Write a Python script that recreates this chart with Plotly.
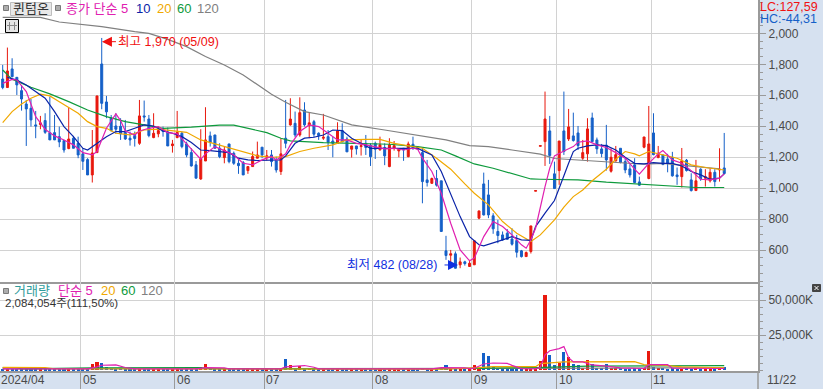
import plotly.graph_objects as go

# ---------- data ----------
highs = [1796,1908,1839,1716,1667,1570,1576,1499,1467,1484,
1591,1473,1398,1312,1521,1338,1333,1258,1194,1376,
1596,1970,1596,1473,1484,1452,1441,1366,1366,1570,
1566,1473,1484,1398,1398,1392,1312,1499,1366,1301,
1258,1176,1381,1523,1366,1344,1290,1269,1286,1237,
1194,1176,1140,1237,1301,1265,1247,1247,1204,1323,
1570,1581,1495,1587,1555,1490,1441,1361,1480,1376,
1333,1426,1419,1333,1273,1273,1312,1344,1290,1301,
1333,1290,1323,1305,1258,1258,1301,1333,1269,1258,
1183,1069,1118,1048,693,602,592,553,532,538,
661,854,1101,1054,839,796,721,736,742,699,
602,592,757,985,1275,1624,1467,1172,1305,1624,
1512,1488,1402,1312,1452,1488,1327,1286,1409,1258,
1273,1258,1194,1155,1194,1075,1331,1531,1484,1273,
1215,1222,1235,1134,1260,1189,1097,1183,1129,1123,
1129,1123,1258,1357]
lows = [1639,1650,1716,1602,1501,1273,1398,1323,1381,1351,
1312,1312,1265,1230,1252,1258,1194,1118,1086,1037,
1230,1510,1452,1366,1351,1312,1312,1275,1269,1280,
1430,1329,1323,1329,1333,1273,1230,1323,1258,1200,
1140,1065,1054,1176,1269,1258,1194,1161,1161,1151,
1093,1086,1093,1140,1194,1194,1179,1140,1101,1086,
1258,1404,1329,1333,1398,1323,1329,1312,1312,1247,
1200,1290,1297,1235,1198,1217,1211,1215,1144,1189,
1243,1149,1136,1243,1200,1177,1200,1252,1247,903,
1011,1028,1011,721,538,510,482,484,501,495,
506,800,824,807,706,645,661,667,630,553,
553,559,579,981,1271,1144,1157,996,1022,1215,
1305,1301,1247,1183,1172,1297,1222,1200,1114,1101,
1172,1161,1097,1069,1033,1015,1258,1058,1213,1194,
1149,1103,1075,1022,1005,1108,979,985,1048,1011,
1037,1011,1043,1091]
opens = [1705,1650,1770,1716,1630,1544,1516,1409,1411,1437,
1359,1359,1333,1308,1256,1323,1290,1222,1185,1086,
1230,1802,1557,1454,1402,1400,1361,1323,1340,1290,
1467,1447,1327,1351,1376,1361,1275,1327,1355,1286,
1230,1151,1060,1176,1338,1344,1258,1198,1286,1226,
1161,1166,1114,1140,1194,1265,1200,1215,1177,1108,
1323,1409,1419,1344,1505,1404,1430,1355,1323,1333,
1305,1290,1372,1318,1252,1273,1269,1290,1278,1290,
1248,1263,1140,1258,1241,1258,1204,1284,1263,1230,
1054,1032,1063,1048,596,568,577,506,525,495,
506,807,1028,957,822,721,699,710,673,663,
596,559,592,981,1271,1301,1370,1093,1114,1370,
1318,1338,1357,1194,1222,1454,1312,1254,1278,1110,
1177,1258,1172,1125,1151,1041,1265,1063,1357,1198,
1215,1189,1200,1086,1075,1181,1054,985,1123,1065,
1048,1103,1118,1131]
closes = [1650,1757,1720,1667,1576,1512,1441,1402,1422,1361,
1312,1312,1299,1247,1318,1258,1215,1174,1086,1228,
1596,1548,1493,1372,1381,1351,1318,1312,1321,1467,
1460,1340,1355,1372,1366,1273,1286,1361,1269,1215,
1144,1065,1189,1312,1295,1258,1204,1247,1172,1161,
1146,1086,1140,1205,1215,1215,1209,1172,1118,1222,
1290,1447,1344,1488,1409,1422,1349,1340,1329,1297,
1290,1370,1301,1235,1273,1254,1275,1263,1204,1252,
1280,1209,1280,1275,1252,1247,1286,1254,1252,1043,
1037,1063,1020,721,566,577,484,525,514,516,
661,854,828,828,738,695,667,671,639,587,
559,585,757,985,1275,1447,1211,998,1305,1237,
1396,1308,1275,1230,1383,1301,1254,1224,1183,1200,
1217,1166,1118,1086,1037,1020,1331,1286,1217,1226,
1153,1161,1080,1075,1177,1114,985,1048,1060,1075,
1103,1043,1123,1095]
volumes = [1100,900,800,900,800,900,800,800,700,900,
800,600,700,800,700,800,900,900,1000,4300,
5700,5000,2500,1500,1200,1500,1000,900,800,1100,
800,800,700,800,700,900,700,1000,800,800,
900,800,2400,4300,1500,1000,800,700,900,700,
700,800,900,800,600,800,700,600,500,1000,
7850,3500,1100,3100,1200,1500,900,700,700,800,
700,900,700,800,600,600,500,800,700,600,
700,600,800,500,500,600,800,800,600,1500,
900,800,1000,1900,4000,800,1000,800,600,900,
3500,1000,12000,10000,2600,1500,1100,900,900,900,
900,800,1000,900,6900,53500,10700,3500,5000,12800,
9300,4300,3500,1800,7100,4300,1800,1500,4300,1500,
1800,1500,1000,1200,1300,1000,1500,13500,2600,1500,
1500,1200,1300,1000,1200,1500,1100,1500,900,900,
1000,1100,2200,2084]

ma5_i = [0,2,3,5,7,9,11,13,15,17,19,20,22,24,25,26,28,29,31,33,35,37,39,41,42,43,45,47,49,51,53,55,57,58,60,61,63,65,67,69,71,73,75,77,79,81,83,85,87,88,89,91,93,95,97,99,100,102,104,106,108,110,111,112,113,114,115,116,117,119,121,122,124,126,128,130,132,134,135,137,139,140,142,144,146,148,150,152,153]
ma5_v = [1677,1703,1699,1624,1462,1381,1338,1312,1280,1230,1215,1237,1387,1480,1437,1370,1344,1370,1387,1398,1359,1351,1286,1222,1187,1222,1269,1243,1215,1161,1151,1183,1205,1183,1222,1280,1366,1409,1398,1355,1312,1312,1290,1280,1269,1254,1258,1247,1258,1252,1194,1108,968,774,602,532,549,688,785,753,699,635,613,667,742,882,1011,1129,1209,1241,1269,1297,1306,1280,1263,1230,1194,1123,1091,1161,1222,1243,1183,1161,1114,1058,1054,1065,1093]
ma10_i = [1,3,5,7,9,11,13,15,17,18,20,22,24,26,28,30,32,34,36,38,40,42,44,46,48,50,52,54,56,57,59,60,62,64,66,68,70,72,74,76,78,80,82,84,86,88,89,91,93,95,97,99,101,102,104,106,108,110,112,113,115,117,118,119,120,121,122,124,126,128,130,132,134,136,138,140,142,144,146,148,150,152,153]
ma10_v = [1716,1699,1667,1624,1581,1495,1398,1333,1258,1247,1290,1333,1366,1366,1387,1409,1402,1370,1355,1333,1295,1247,1243,1237,1230,1194,1183,1179,1179,1179,1183,1209,1290,1323,1329,1344,1376,1372,1323,1290,1258,1258,1258,1258,1258,1258,1243,1215,1108,957,817,688,635,628,650,667,688,667,663,753,839,921,1000,1086,1161,1237,1258,1273,1280,1275,1247,1200,1161,1157,1166,1161,1161,1144,1108,1086,1058,1065,1093]
ma20_i = [0,2,4,6,8,10,12,14,16,18,20,22,24,27,30,33,36,39,42,45,48,51,54,57,60,63,66,70,73,77,80,83,86,89,92,95,98,100,103,106,109,112,114,117,119,121,123,125,128,130,132,134,135,137,140,143,146,149,153]
ma20_v = [1424,1495,1544,1581,1607,1596,1559,1523,1484,1430,1398,1387,1355,1344,1376,1381,1370,1361,1312,1286,1258,1230,1209,1200,1204,1237,1258,1280,1312,1316,1316,1290,1273,1258,1194,1123,1028,968,893,785,710,656,699,796,878,946,989,1048,1123,1187,1237,1222,1209,1237,1215,1194,1151,1134,1118]
ma60_i = [0,2,6,10,14,18,22,26,30,34,40,46,49,52,56,59,61,68,75,82,88,93,96,100,104,108,112,114,122,128,134,140,147,153]
ma60_v = [1763,1703,1652,1609,1559,1505,1462,1430,1409,1387,1394,1407,1407,1387,1359,1323,1306,1295,1290,1284,1269,1247,1209,1157,1129,1097,1060,1058,1054,1039,1028,1020,1005,1005]
ma120_i = [0,8,12,17,21,28,31,35,39,43,47,51,55,57,60,64,68,74,81,88,94,99,103,108,114,117,122,128,134,136,140,146,152]
ma120_v = [2103,2103,2073,2056,2043,2011,2000,1961,1914,1850,1796,1731,1652,1607,1555,1495,1473,1409,1376,1344,1312,1275,1269,1247,1220,1192,1183,1168,1161,1155,1161,1144,1125]

vma5_i = [0,18,20,21,24,26,28,41,43,47,48,59,60,62,64,66,67,91,93,98,99,100,102,104,107,108,110,113,114,115,116,118,119,120,121,123,125,128,131,136,137,141,142,153]
vma5_v = [1000,1000,2500,3600,3800,2000,1000,1000,1900,1800,1000,1000,2500,2700,3400,2200,1000,1000,1900,1800,1200,1500,4500,5200,4900,3500,1200,1000,2200,11000,14000,15500,16900,9000,6000,6000,3800,3000,1800,1300,4000,4000,1500,1300]
vma20_i = [0,9,11,42,90,93,100,104,113,114,119,134,136,140,144,153]
vma20_v = [2100,2000,1100,1000,900,800,1800,2600,2600,4800,6000,6200,4000,3600,2400,1700]
vma60_i = [0,3,4,19,42,44,90,113,124,153]
vma60_v = [1900,1900,1000,1700,1900,1100,1000,1900,3000,3300]
vma120_i = [0,100,113,130,153]
vma120_v = [1000,1000,1100,1500,1900]

price_ticks = [600,800,1000,1200,1400,1600,1800,2000]
price_minor = list(range(400,2201,50))
vol_ticks = [25000,50000]
vol_tick_text = ["25,000K","50,000K"]
vol_minor = list(range(0,63001,5000))
month_pos = [16.5,36.5,55.5,78.5,99.5,117.5,137.5]
month_text = ["05","06","07","08","09","10","11"]

# ---------- styles ----------
RED="#E8190E"; BLUE="#1560C8"; MAGENTA="#E020B0"; NAVY="#0A23A8"; ORANGE="#F0A800"; GREEN="#0E9A3C"; GRAY="#808080"
BAND="#D6E1F0"; GRID="#D2D2D2"; EDGE="#9A9A9A"; LABEL="#4A4A4A"
FONT="Liberation Sans, Noto Sans CJK KR, sans-serif"
W=758; H=371
X=lambda p:p/W
Y=lambda p:1-p/H
XR=[-0.57,160.16]
LW=1.2

idx=list(range(len(closes)))
fig=go.Figure()
fig.add_trace(go.Candlestick(x=idx,open=opens,high=highs,low=lows,close=closes,
    increasing=dict(line=dict(color=RED,width=1),fillcolor=RED),
    decreasing=dict(line=dict(color=BLUE,width=1),fillcolor=BLUE),
    whiskerwidth=0,hoverinfo="skip",showlegend=False,xaxis="x",yaxis="y"))
for xs,ys,c in [(ma120_i,ma120_v,GRAY),(ma60_i,ma60_v,GREEN),(ma20_i,ma20_v,ORANGE),(ma10_i,ma10_v,NAVY),(ma5_i,ma5_v,MAGENTA)]:
    fig.add_trace(go.Scatter(x=xs,y=ys,mode="lines",line=dict(color=c,width=LW),hoverinfo="skip",showlegend=False,xaxis="x",yaxis="y"))

bar_colors=[RED if c>=o else BLUE for o,c in zip(opens,closes)]
fig.add_trace(go.Bar(x=idx,y=volumes,marker=dict(color=bar_colors,line=dict(width=0)),width=0.65,hoverinfo="skip",showlegend=False,xaxis="x2",yaxis="y2"))
for xs,ys,c in [(vma120_i,vma120_v,GRAY),(vma60_i,vma60_v,GREEN),(vma20_i,vma20_v,ORANGE),(vma5_i,vma5_v,MAGENTA)]:
    fig.add_trace(go.Scatter(x=xs,y=ys,mode="lines",line=dict(color=c,width=LW),hoverinfo="skip",showlegend=False,xaxis="x2",yaxis="y2"))

def txt(t,x,y,color,size=13,anchor="left"):
    return dict(text=t,x=X(x),y=Y(y),xref="paper",yref="paper",xanchor=anchor,yanchor="middle",showarrow=False,
                font=dict(family=FONT,size=size,color=color))
annotations=[
    txt("퀸텀온",31,8,"#333333",13,"center"),
    txt("종가 단순 5",64,8,MAGENTA),
    txt("10",134,8,NAVY),
    txt("20",155,8,ORANGE),
    txt("60",175,8,GREEN),
    txt("120",195,8,GRAY),
    txt("LC:127,59",758,7,"#F01010",12.5),
    txt("HC:-44,31",758,19,BLUE,12.5),
    txt("거래량",12,290,"#2F9C9C",13),
    txt("단순 5",56,290,MAGENTA),
    txt("20",99,290,ORANGE),
    txt("60",119,290,GREEN),
    txt("120",139,290,GRAY),
    txt("2,084,054주(111,50%)",3,303,"#333333",11.5),
    txt("2024/04",-1,380,LABEL,12),
    txt("11/22",765,380,LABEL,12),
    dict(text="최고 1,970 (05/09)",x=21.05,y=1946,xref="x",yref="y",ax=14,ay=0,xanchor="left",yanchor="middle",
         showarrow=True,arrowhead=2,arrowsize=2,arrowwidth=1,arrowcolor="#F01010",standoff=0,startstandoff=0,
         font=dict(family=FONT,size=12.5,color="#F01010")),
    dict(text="최저 482 (08/28)",x=92.5,y=505,xref="x",yref="y",xanchor="right",yanchor="middle",showarrow=False,
         font=dict(family=FONT,size=12.5,color="#1030E0")),
    dict(text="",x=96.55,y=505,xref="x",yref="y",ax=-15,ay=0,showarrow=True,arrowhead=2,arrowsize=2,arrowwidth=1,arrowcolor="#1030E0"),
]
for p,t in zip(month_pos,month_text):
    annotations.append(dict(text=t,x=p,y=Y(380),xref="x2",yref="paper",xanchor="left",yanchor="middle",xshift=0,showarrow=False,
                            font=dict(family=FONT,size=12,color=LABEL)))

def rect(x0,y0,x1,y1,fill,line,w=1):
    return dict(type="rect",xref="paper",yref="paper",x0=X(x0),x1=X(x1),y0=Y(y0),y1=Y(y1),fillcolor=fill,line=dict(color=line,width=w),layer="above")
def seg(x0,y0,x1,y1,color,w=1):
    return dict(type="line",xref="paper",yref="paper",x0=X(x0),x1=X(x1),y0=Y(y0),y1=Y(y1),line=dict(color=color,width=w),layer="above")
shapes=[
    rect(10.5,2.5,51.5,15.5,"#E8E8E8","#BEBEBE"),
    rect(3.5,5.5,8.5,10.5,"#ADADAD","#7A7A7A"),
    rect(55.5,5.5,60.5,10.5,"#ADADAD","#7A7A7A"),
    rect(3.5,288.5,8.5,293.5,"#ADADAD","#7A7A7A"),
    rect(5.5,19.5,18.5,32.5,"#E4E4E4","#000000"),
    seg(9.5,22,9.5,30,"#888888"),seg(14.5,22,14.5,30,"#888888"),seg(7,25.5,17,25.5,"#888888"),
    seg(758,371,758,389,EDGE,1.5),
    rect(812.5,284.5,820.5,291.5,"#444444","#444444"),
    seg(814.5,286,818.5,290,"#FFFFFF"),seg(814.5,290,818.5,286,"#FFFFFF"),
]

fig.update_layout(
    width=823,height=389,autosize=False,margin=dict(l=0,r=65,t=0,b=18,autoexpand=False),
    paper_bgcolor=BAND,plot_bgcolor="#FFFFFF",showlegend=False,boxgap=0.4,bargap=0,hovermode=False,
    dragmode=False,annotations=annotations,shapes=shapes,
    xaxis=dict(domain=[0,1],range=XR,anchor="y",tickmode="array",tickvals=month_pos,showticklabels=False,ticks="",
               showgrid=True,gridcolor=GRID,gridwidth=1,zeroline=False,showline=True,linecolor=EDGE,linewidth=2,
               rangeslider=dict(visible=False),fixedrange=True),
    yaxis=dict(domain=[89/371,1],range=[395,2215],side="right",anchor="x",tickmode="array",tickvals=price_ticks,tickformat=",",
               ticks="outside",ticklen=6,tickcolor=EDGE,tickfont=dict(family=FONT,size=12,color=LABEL),
               showgrid=True,gridcolor=GRID,gridwidth=1,zeroline=False,showline=True,linecolor=EDGE,linewidth=2,fixedrange=True,
               minor=dict(tickmode="array",tickvals=price_minor,ticks="outside",ticklen=3,tickcolor=EDGE,showgrid=False)),
    xaxis2=dict(domain=[0,1],range=XR,anchor="y2",tickmode="array",tickvals=month_pos,showticklabels=False,ticks="outside",ticklen=18,tickcolor=EDGE,
                showgrid=True,gridcolor=GRID,gridwidth=1,zeroline=False,showline=True,linecolor=EDGE,linewidth=2,fixedrange=True),
    yaxis2=dict(domain=[0,89/371],range=[-500,63000],side="right",anchor="x2",tickmode="array",tickvals=vol_ticks,ticktext=vol_tick_text,
                ticks="outside",ticklen=6,tickcolor=EDGE,tickfont=dict(family=FONT,size=12,color=LABEL),
                showgrid=True,gridcolor=GRID,gridwidth=1,zeroline=False,showline=True,linecolor=EDGE,linewidth=2,fixedrange=True,
                minor=dict(tickmode="array",tickvals=vol_minor,ticks="outside",ticklen=3,tickcolor=EDGE,showgrid=False)),
)
fig.write_html("out.html",config=dict(displayModeBar=False),
               post_script="document.body.style.margin='0';document.documentElement.style.overflow='hidden';")
